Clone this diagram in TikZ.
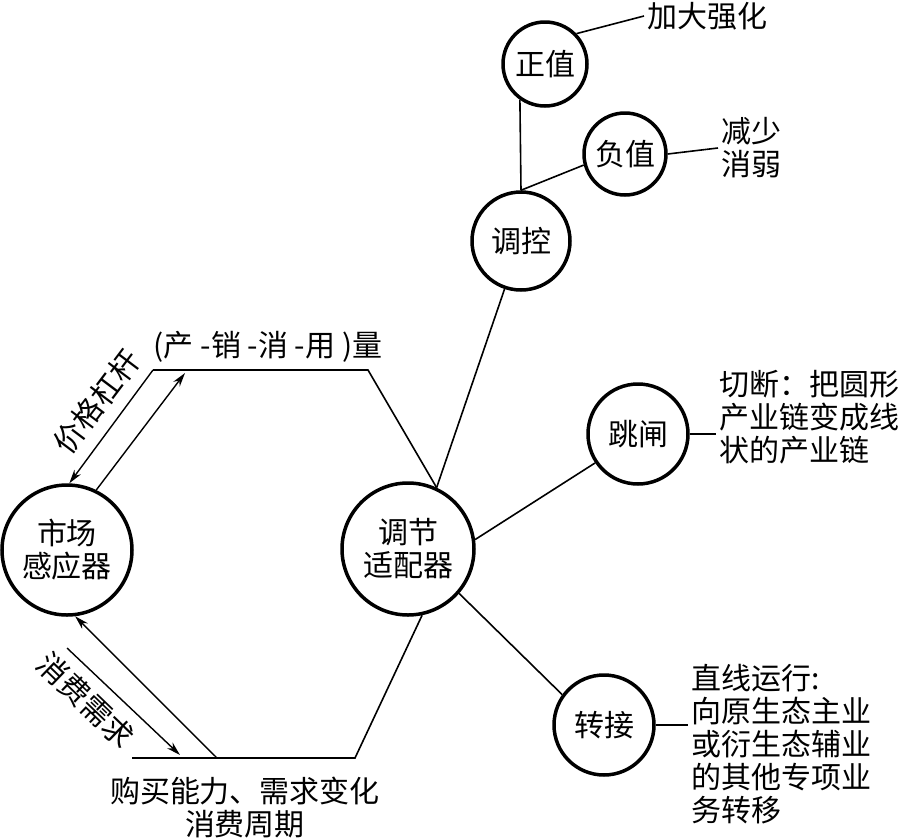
\documentclass[tikz,border=0pt]{standalone}
\usepackage{fontspec}
\setmainfont{Noto Sans CJK SC}
\usetikzlibrary{arrows.meta}

\begin{document}
\begin{tikzpicture}[x=1pt,y=-1pt,font=\fontsize{30}{33}\selectfont,
  ring/.style={circle,draw,line width=3.5pt,inner sep=0pt,align=center},
  link/.style={line width=1.6pt},
  flow/.style={line width=1.4pt,-{Stealth[length=14pt,width=8pt]}},
  note/.style={align=left,inner sep=3pt}]
  \useasboundingbox (0,0) rectangle (906,839);
  % circles
  \node[ring,minimum size=130pt] (mkt) at (67,550) {市场\\感应器};
  \node[ring,minimum size=132pt] (adj) at (408,549) {调节\\适配器};
  \node[ring,minimum size=98pt] (ctl) at (521,241) {调控};
  \node[ring,minimum size=84pt] (pos) at (545,64) {正值};
  \node[ring,minimum size=82pt] (neg) at (625,154) {负值};
  \node[ring,minimum size=100pt] (jmp) at (638,434) {跳闸};
  \node[ring,minimum size=100pt] (trn) at (604,725) {转接};
  % texts
  \node (qty) at (268,347) {(产 -销 -消 -用 )量};
  \node[align=center] (buy) at (245,808) {购买能力、需求变化\\消费周期};
  \node[rotate=53] (lev) at (97,402) {价格杠杆};
  \node[rotate=-44] (dem) at (86,700) {消费需求};
  \node[note,anchor=west] (tpos) at (644,16) {加大强化};
  \node[note,anchor=west] (tneg) at (718,148) {减少\\消弱};
  \node[note,anchor=west] (tjmp) at (716,417) {切断：把圆形\\产业链变成线\\状的产业链};
  \node[note,anchor=west] (ttrn) at (688,744) {直线运行:\\向原生态主业\\或衍生态辅业\\的其他专项业\\务转移};
  % corners
  \coordinate (tl) at (153,370);
  \coordinate (tr) at (368,370);
  \coordinate (bl) at (132,758);
  \coordinate (br) at (355,758);
  \coordinate (ta) at (185,373);
  \coordinate (bs) at (217,758);
  \coordinate (ba) at (67,648);
  \coordinate (bb) at (180,755);
  % frame
  \draw[link] (tl) -- (tr) -- (adj.65);
  \draw[link] (bl) -- (br) -- (adj.-78);
  \draw[flow] (tl) -- (mkt.88);
  \draw[flow] (mkt.64) -- (ta);
  \draw[flow] (bs) -- (mkt.-83);
  \draw[flow] (ba) -- (bb);
  % branches
  \draw[link] (adj.65) -- (ctl);
  \draw[link] (ctl.north) -- (pos.-125);
  \draw[link] (ctl.north) -- (neg.195);
  \draw[link] (adj.8) -- (jmp.214);
  \draw[link] (adj.-41) -- (trn.144);
  \draw[link] (pos.44) -- (tpos.west);
  \draw[link] (neg.east) -- (tneg.west);
  \draw[link] (jmp.east) -- (jmp.east -| tjmp.west);
  \draw[link] (trn.east) -- (trn.east -| ttrn.west);
\end{tikzpicture}
\end{document}
